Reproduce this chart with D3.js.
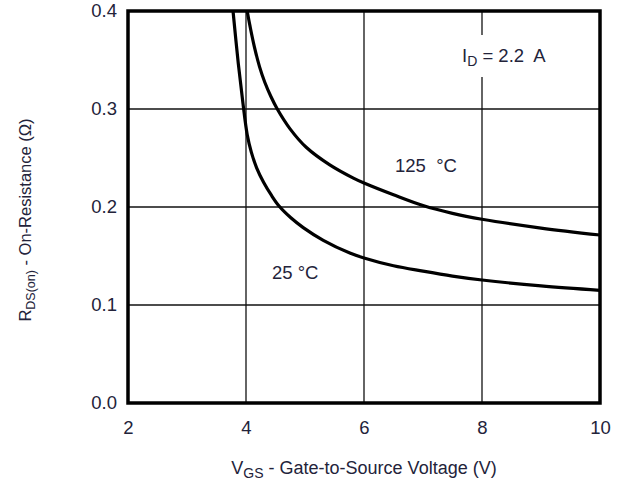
<!DOCTYPE html>
<html>
<head>
<meta charset="utf-8">
<script src="https://cdn.jsdelivr.net/npm/d3@7"></script>
<style>
  html, body { margin: 0; padding: 0; background: #fff; }
  svg { display: block; }
  text { font-family: "Liberation Sans", Arial, sans-serif; fill: #23233a; white-space: pre; }
</style>
</head>
<body>
<svg id="chart" width="621" height="480"></svg>
<script>
// On-resistance vs. gate-to-source voltage, two junction temperatures
const xTicks = [2, 4, 6, 8, 10];
const yTicks = [0.0, 0.1, 0.2, 0.3, 0.4];
const yTickLabels = ["0.0", "0.1", "0.2", "0.3", "0.4"];

const vgs25  = [3.78, 3.87, 3.95, 4.02, 4.09, 4.18, 4.30, 4.43, 4.56, 4.76, 4.97, 5.31, 5.76, 6.0, 6.5, 7.0, 7.5, 8.0, 9.0, 10.0];
const rds25  = [0.400, 0.346, 0.305, 0.274, 0.256, 0.240, 0.225, 0.212, 0.201, 0.189, 0.179, 0.166, 0.153, 0.148, 0.140, 0.1345, 0.1295, 0.1255, 0.1195, 0.115];

const vgs125 = [4.02, 4.07, 4.14, 4.23, 4.32, 4.42, 4.53, 4.75, 5.02, 5.42, 5.82, 6.0, 6.5, 7.0, 7.5, 8.0, 9.0, 10.0];
const rds125 = [0.400, 0.384, 0.364, 0.343, 0.327, 0.313, 0.300, 0.2795, 0.261, 0.243, 0.2295, 0.2245, 0.2125, 0.2015, 0.1935, 0.1875, 0.1785, 0.1714];

const svg = d3.select("#chart");
const plot = { left: 128, right: 600, top: 11, bottom: 403 };

const x = d3.scaleLinear().domain([2, 10]).range([plot.left, plot.right]);
const y = d3.scaleLinear().domain([0, 0.4]).range([plot.bottom, plot.top]);

// grid lines
const grid = svg.append("g").attr("stroke", "#111").attr("stroke-width", 1.3);
grid.selectAll(".gx").data(xTicks.slice(1, -1)).join("line")
  .attr("x1", d => x(d)).attr("x2", d => x(d))
  .attr("y1", plot.top).attr("y2", plot.bottom);
grid.selectAll(".gy").data(yTicks.slice(1, -1)).join("line")
  .attr("x1", plot.left).attr("x2", plot.right)
  .attr("y1", d => y(d)).attr("y2", d => y(d));

// axes (labels only, ticks hidden)
const xAxis = svg.append("g")
  .attr("transform", `translate(0,${plot.bottom})`)
  .call(d3.axisBottom(x).tickValues(xTicks).tickSize(0).tickPadding(18).tickFormat(d3.format("d")));
const yAxis = svg.append("g")
  .attr("transform", `translate(${plot.left},0)`)
  .call(d3.axisLeft(y).tickValues(yTicks).tickSize(0).tickPadding(11)
    .tickFormat((d, i) => yTickLabels[i]));
[xAxis, yAxis].forEach(a => {
  a.select(".domain").remove();
  a.selectAll("text").attr("font-size", 18.5).attr("font-family", "Liberation Sans, Arial, sans-serif").attr("fill", "#23233a");
});

// curves
const line = d3.line().x(d => x(d[0])).y(d => y(d[1])).curve(d3.curveCatmullRom.alpha(0.5));
const series = [d3.zip(vgs25, rds25), d3.zip(vgs125, rds125)];
svg.append("g").selectAll("path").data(series).join("path")
  .attr("d", line)
  .attr("fill", "none").attr("stroke", "#000").attr("stroke-width", 3.2)
  .attr("stroke-linejoin", "round");

// frame
svg.append("rect")
  .attr("x", plot.left).attr("y", plot.top)
  .attr("width", plot.right - plot.left).attr("height", plot.bottom - plot.top)
  .attr("fill", "none").attr("stroke", "#000").attr("stroke-width", 3.5);

// annotation: drain current
svg.append("rect").attr("x", 456).attr("y", 35).attr("width", 100).attr("height", 42).attr("fill", "#fff");
const idLabel = svg.append("text").attr("x", 462).attr("y", 62).attr("font-size", 18.5);
idLabel.append("tspan").text("I");
idLabel.append("tspan").attr("dy", 4).attr("font-size", 14).text("D");
idLabel.append("tspan").attr("dy", -4).text(" = 2.2  A");

// temperature labels
svg.append("text").attr("x", 395).attr("y", 172).attr("font-size", 18.5).text("125  °C");
svg.append("text").attr("x", 272).attr("y", 279).attr("font-size", 18.5).text("25 °C");

// axis titles
const xt = svg.append("text").attr("x", 364).attr("y", 474).attr("text-anchor", "middle").attr("font-size", 18);
xt.append("tspan").text("V");
xt.append("tspan").attr("dy", 4).attr("font-size", 14).text("GS");
xt.append("tspan").attr("dy", -4).text(" - Gate-to-Source Voltage (V)");

const yt = svg.append("text")
  .attr("transform", "translate(31,220) rotate(-90)")
  .attr("text-anchor", "middle").attr("font-size", 16.5);
yt.append("tspan").text("R");
yt.append("tspan").attr("dy", 4).attr("font-size", 12.5).text("DS(on)");
yt.append("tspan").attr("dy", -4).text(" - On-Resistance (Ω)");
</script>
</body>
</html>
